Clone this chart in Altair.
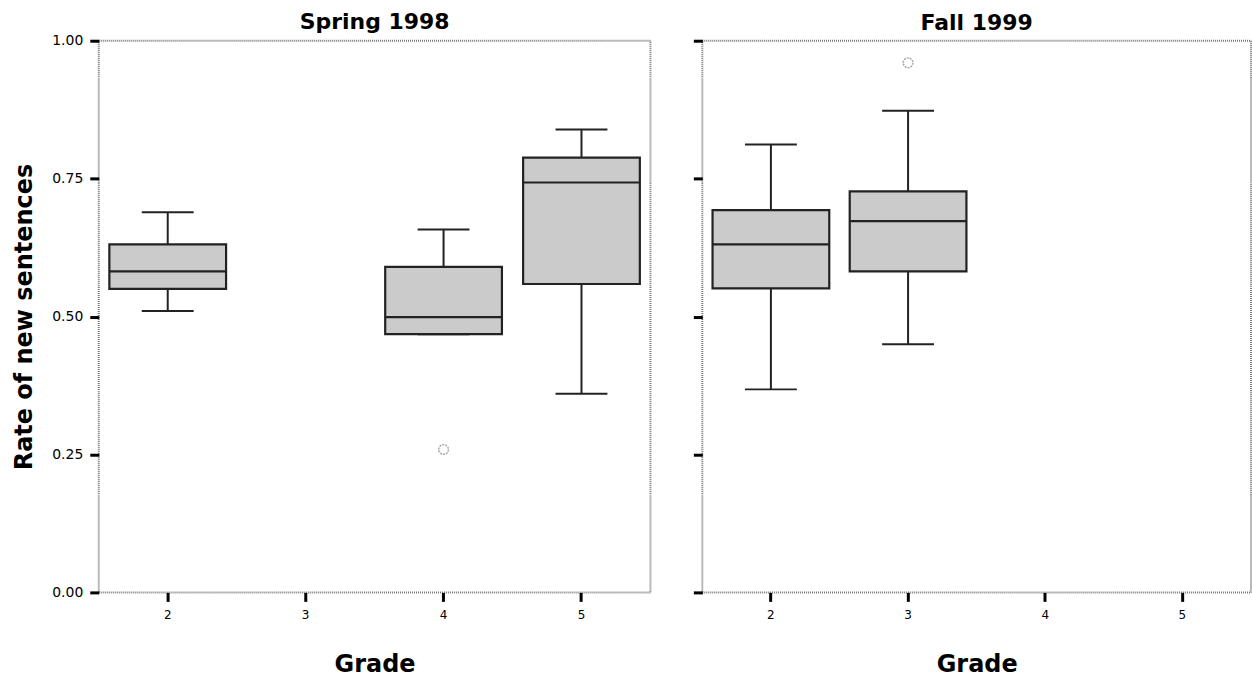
import altair as alt
import pandas as pd

# Box-plot summaries of the rate of new sentences, per survey wave and grade
panel = ["Spring 1998", "Spring 1998", "Spring 1998", "Fall 1999", "Fall 1999"]
grade = ["2", "4", "5", "2", "3"]
whisker_low = [0.510, 0.468, 0.360, 0.368, 0.450]
q1 = [0.550, 0.468, 0.559, 0.551, 0.582]
median = [0.582, 0.499, 0.743, 0.631, 0.673]
q3 = [0.631, 0.590, 0.788, 0.693, 0.727]
whisker_high = [0.689, 0.658, 0.839, 0.812, 0.873]

# Outlying observations
out_panel = ["Spring 1998", "Fall 1999"]
out_grade = ["4", "3"]
out_value = [0.259, 0.960]

grades = ["2", "3", "4", "5"]
y_ticks = [0.0, 0.25, 0.5, 0.75, 1.0]

boxes = pd.DataFrame({
    "panel": panel, "grade": grade, "lo": whisker_low, "q1": q1,
    "median": median, "q3": q3, "hi": whisker_high,
})
outs = pd.DataFrame({"panel": out_panel, "grade": out_grade, "value": out_value})

LABEL_FONT = "DejaVu Sans"
TITLE_FONT = "DejaVu Sans"
BOX_W = 117
CAP_W = 52
EDGE = "#222222"


def panel_chart(name, first, width, title_offset):
    b = alt.Chart(boxes).transform_filter(alt.datum.panel == name)
    o = alt.Chart(outs).transform_filter(alt.datum.panel == name)

    x = alt.X(
        "grade:N",
        scale=alt.Scale(domain=grades, paddingInner=0, paddingOuter=0),
        axis=alt.Axis(
            title="Grade", labelAngle=0, domain=False, grid=False,
            tickSize=9, tickWidth=3, tickColor="black",
            labelFont=LABEL_FONT, labelFontSize=12, labelPadding=8,
            labelColor="black",
            titleFont=TITLE_FONT, titleFontSize=24, titleFontWeight="bold",
            titlePadding=32, titleColor="black",
        ),
    )
    yscale = alt.Scale(domain=[0, 1], nice=False, zero=False)
    if first:
        yaxis = alt.Axis(
            title="Rate of new sentences", values=y_ticks, format=".2f",
            domain=False, grid=False, tickSize=9, tickWidth=3,
            tickColor="black", labelFont=LABEL_FONT, labelFontSize=14,
            labelPadding=7, labelColor="black",
            titleFont=TITLE_FONT, titleFontSize=24, titleFontWeight="bold",
            titlePadding=15, titleColor="black",
        )
    else:
        yaxis = alt.Axis(
            title=None, values=y_ticks, labels=False, domain=False,
            grid=False, tickSize=9, tickWidth=3, tickColor="black",
        )

    lower = b.mark_rule(color=EDGE, strokeWidth=2).encode(
        x=x, y=alt.Y("lo:Q", scale=yscale, axis=yaxis), y2="q1:Q"
    )
    upper = b.mark_rule(color=EDGE, strokeWidth=2).encode(
        x=x, y=alt.Y("q3:Q"), y2="hi:Q"
    )
    cap_lo = b.mark_tick(color=EDGE, thickness=2, size=CAP_W, opacity=1).encode(
        x=x, y="lo:Q"
    )
    cap_hi = b.mark_tick(color=EDGE, thickness=2, size=CAP_W, opacity=1).encode(
        x=x, y="hi:Q"
    )
    box = b.mark_bar(
        fill="#cbcbcb", stroke=EDGE, strokeWidth=2.2, size=BOX_W, opacity=1
    ).encode(x=x, y="q1:Q", y2="q3:Q")
    mid = b.mark_tick(color=EDGE, thickness=2.2, size=BOX_W, opacity=1).encode(
        x=x, y="median:Q"
    )
    pts = o.mark_point(
        shape="circle", filled=False, size=95, color="#a8a8a8",
        strokeWidth=1.5, strokeDash=[2, 1], opacity=1,
    ).encode(x=x, y="value:Q")

    return alt.layer(lower, upper, cap_lo, cap_hi, box, mid, pts).properties(
        width=width, height=553,
        title=alt.TitleParams(
            name, font=TITLE_FONT, fontSize=22, fontWeight="bold",
            color="black", offset=title_offset, anchor="middle",
        ),
    )


chart = alt.hconcat(
    panel_chart("Spring 1998", True, 553, 0),
    panel_chart("Fall 1999", False, 550, 4),
    spacing=39,
).properties(
    padding={"left": 11, "top": 9, "right": 0, "bottom": 0},
    background="white",
).configure_view(
    stroke="#777777", strokeWidth=2, strokeDash=[1, 1]
)

chart.save("out.html", embed_options={"renderer": "svg", "actions": False})
